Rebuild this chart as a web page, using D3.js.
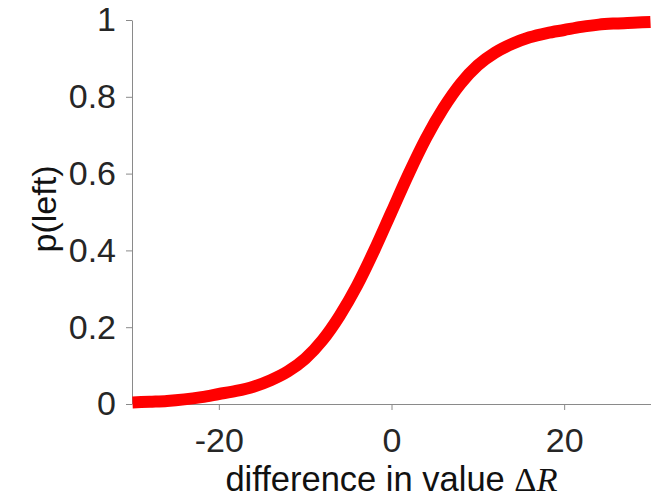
<!DOCTYPE html>
<html>
<head>
<meta charset="utf-8">
<script src="https://cdn.jsdelivr.net/npm/d3@7"></script>
<style>
  html, body { margin: 0; padding: 0; background: #fff; }
  svg { display: block; }
  .tick text { font-family: "Liberation Sans", Arial, sans-serif; fill: #262626; }
</style>
</head>
<body>
<svg id="chart" width="656" height="497"></svg>
<script>
// Psychometric curve: probability of choosing left vs. value difference
const deltaR = [-30, -28, -26, -24, -22, -20, -18, -16, -14, -12, -10, -8, -6, -4, -2, 0,
                2, 4, 6, 8, 10, 12, 14, 16, 18, 20, 22, 24, 26, 28, 30];
const pLeft  = [0.004, 0.006, 0.008, 0.012, 0.018, 0.026, 0.034, 0.045, 0.062, 0.085, 0.118, 0.166, 0.230, 0.308, 0.400, 0.500,
                0.600, 0.692, 0.770, 0.834, 0.882, 0.915, 0.938, 0.955, 0.966, 0.974, 0.982, 0.988, 0.991, 0.993, 0.995];
const xTicks = [-20, 0, 20];
const yTicks = [0, 0.2, 0.4, 0.6, 0.8, 1];
const yTickLabels = ["0", "0.2", "0.4", "0.6", "0.8", "1"];

const svg = d3.select("#chart");
const x = d3.scaleLinear().domain([-30, 30]).range([132.5, 650.5]);
const y = d3.scaleLinear().domain([0, 1]).range([404, 20]);

const axisColor = "#8a8a8a";

const xAxis = svg.append("g")
  .attr("transform", `translate(0,${y(0)})`)
  .call(d3.axisBottom(x).tickValues(xTicks).tickSize(6).tickSizeOuter(0).tickPadding(18)
        .tickFormat(d => d3.format("d")(d).replace("\u2212", "-")));

const yAxis = svg.append("g")
  .attr("transform", `translate(${x(-30) - 0.5},0)`)
  .call(d3.axisLeft(y).tickValues(yTicks).tickSize(6).tickSizeOuter(0).tickPadding(10)
        .tickFormat((d, i) => yTickLabels[i]));

[xAxis, yAxis].forEach(g => {
  g.select(".domain").attr("stroke", axisColor).attr("stroke-width", 1);
  g.selectAll(".tick line").attr("stroke", axisColor).attr("stroke-width", 1);
  g.selectAll(".tick text").attr("font-size", 34).attr("font-family", "Liberation Sans, Arial, sans-serif").attr("fill", "#262626");
});

// the curve
const line = d3.line()
  .x((d, i) => x(deltaR[i]))
  .y(d => y(d))
  .curve(d3.curveMonotoneX);

svg.append("path")
  .datum(pLeft)
  .attr("d", line)
  .attr("fill", "none")
  .attr("stroke", "#ff0000")
  .attr("stroke-width", 12)
  .attr("stroke-linecap", "butt")
  .attr("stroke-linejoin", "round");

// axis titles
svg.append("text")
  .attr("transform", `translate(56,${y(0.5) - 3}) rotate(-90)`)
  .attr("text-anchor", "middle")
  .attr("font-family", "Liberation Sans, Arial, sans-serif")
  .attr("font-size", 34)
  .attr("fill", "#111")
  .text("p(left)");

const xt = svg.append("text")
  .attr("x", x(0))
  .attr("y", 491)
  .attr("text-anchor", "middle")
  .attr("font-family", "Liberation Sans, Arial, sans-serif")
  .attr("font-size", 34.5)
  .attr("fill", "#111");
xt.append("tspan").text("difference in value ");
xt.append("tspan").attr("font-family", "Liberation Serif, serif").text("\u0394");
xt.append("tspan").attr("font-family", "Liberation Serif, serif").attr("font-style", "italic").text("R");
</script>
</body>
</html>
